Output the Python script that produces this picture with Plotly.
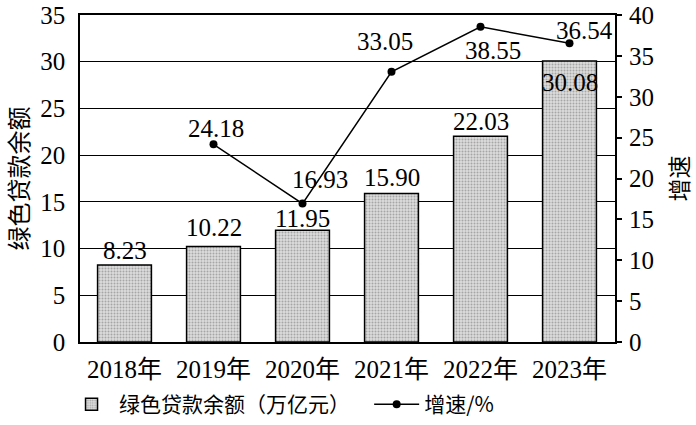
import plotly.graph_objects as go

years = ["2018年", "2019年", "2020年", "2021年", "2022年", "2023年"]
balance = [8.23, 10.22, 11.95, 15.90, 22.03, 30.08]
growth_years = ["2019年", "2020年", "2021年", "2022年", "2023年"]
growth = [24.18, 16.93, 33.05, 38.55, 36.54]
left_ticks = [0, 5, 10, 15, 20, 25, 30, 35]
right_ticks = [0, 5, 10, 15, 20, 25, 30, 35, 40]

FONT = "Liberation Serif, 'Noto Sans CJK SC', serif"
CJK = "'Noto Sans CJK SC', 'Liberation Serif', sans-serif"

fig = go.Figure()
fig.add_trace(go.Bar(
    x=years, y=balance, name="绿色贷款余额（万亿元）\u00a0\u00a0\u00a0",
    marker=dict(color="#dcdcdc", line=dict(color="black", width=1.5),
                pattern=dict(shape=".", fgcolor="#707070", bgcolor="#dcdcdc", size=3, solidity=0.35)),
    yaxis="y",
))
fig.add_trace(go.Scatter(
    x=growth_years, y=growth, name="增速/%", mode="lines+markers",
    line=dict(color="black", width=1.5), marker=dict(color="black", size=8),
    yaxis="y2",
))

# bar value labels (screen offsets: negative = up)
bar_dy = [-15, -19, -12, -16, -15, 22]
for x, v, dy in zip(years, balance, bar_dy):
    fig.add_annotation(x=x, y=v, yref="y", text=f"{v:.2f}", showarrow=False,
                       yshift=-dy, font=dict(family=FONT, size=25, color="black"),
                       xanchor="center", yanchor="middle")

# line value labels
line_dx = [2, 17, -7, 12, 15]
line_dy = [-16, -24, -30, 24, -13]
for x, v, dx, dy in zip(growth_years, growth, line_dx, line_dy):
    fig.add_annotation(x=x, y=v, yref="y2", text=f"{v:.2f}", showarrow=False,
                       xshift=dx, yshift=-dy, font=dict(family=FONT, size=25, color="black"),
                       xanchor="center", yanchor="middle")

fig.update_layout(
    width=696, height=425,
    margin=dict(l=80, r=81, t=15, b=83, autoexpand=False),
    paper_bgcolor="white", plot_bgcolor="white",
    bargap=0.395,
    font=dict(family=FONT, size=24, color="black"),
    showlegend=True,
    legend=dict(orientation="h", xref="container", x=0.092, xanchor="left",
                yref="container", y=0.0, yanchor="bottom",
                font=dict(family=CJK, size=21, color="black"), itemwidth=45,
                bgcolor="rgba(0,0,0,0)"),
    xaxis=dict(showline=True, linecolor="black", linewidth=1.5, mirror=True,
               ticks="", showgrid=False, tickfont=dict(family=FONT, size=25),
               ticklabelstandoff=4, automargin=False),
    yaxis=dict(range=[0, 35], tickvals=left_ticks, showline=True, linecolor="black",
               linewidth=1.5, mirror=True, showgrid=True, gridcolor="black", gridwidth=1.2,
               ticks="", tickfont=dict(family=FONT, size=25), zeroline=False,
               ticklabelstandoff=8, automargin=False,
               title=dict(text="绿色贷款余额", font=dict(family=CJK, size=24), standoff=6)),
    yaxis2=dict(range=[0, 40], tickvals=right_ticks, overlaying="y", side="right",
                showgrid=False, zeroline=False, ticks="outside", ticklen=6, tickcolor="black",
                tickwidth=1.5, tickfont=dict(family=FONT, size=25), ticklabelstandoff=2,
                automargin=False,
                title=dict(text="增速", font=dict(family=CJK, size=23), standoff=18)),
)

fig.write_html("out.html", config={"displayModeBar": False},
               post_script="document.body.style.margin='0';document.body.style.overflow='hidden';")
